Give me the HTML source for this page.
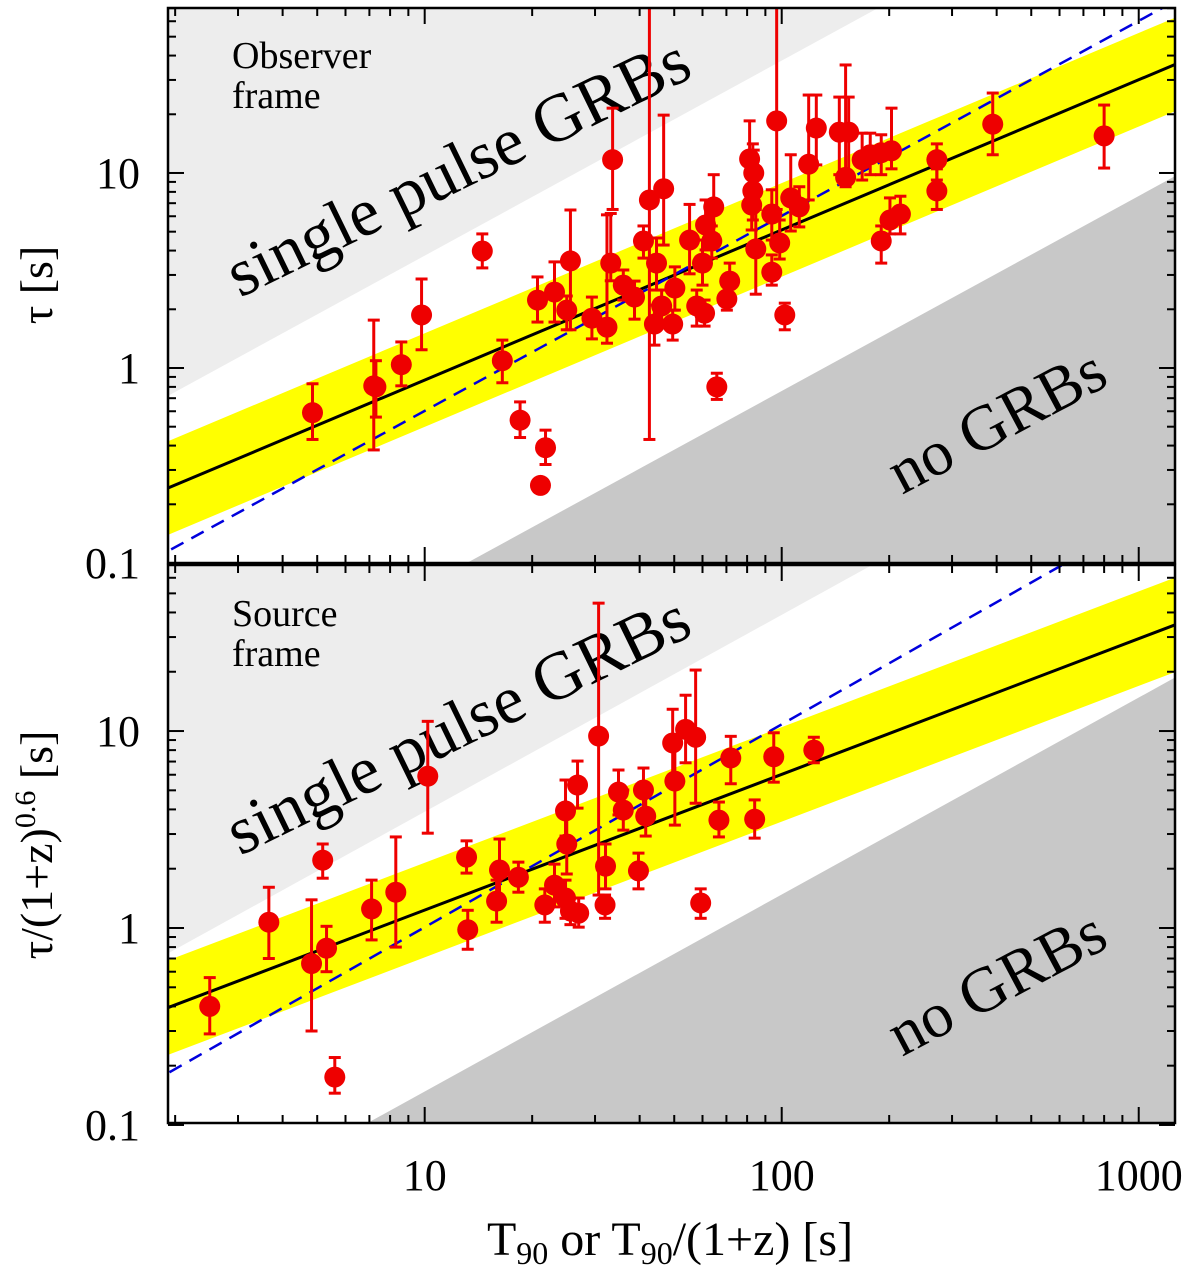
<!DOCTYPE html>
<html><head><meta charset="utf-8">
<style>
html,body{margin:0;padding:0;background:#fff;width:1200px;height:1270px;overflow:hidden;position:relative;}
svg{display:block;font-family:"Liberation Serif",serif;}
</style></head>
<body>
<svg id="chart" width="1200" height="1270" viewBox="0 0 1200 1270" xmlns="http://www.w3.org/2000/svg">
<defs>
<clipPath id="clipTop"><rect x="168" y="8" width="1007" height="555"/></clipPath>
<clipPath id="clipBot"><rect x="168" y="565" width="1007" height="558"/></clipPath>
</defs>
<g id="bgTop" clip-path="url(#clipTop)"></g>
<g id="bgBot" clip-path="url(#clipBot)"></g>
<g id="pts"></g>
<g id="axes"></g>
</svg>
<script>
// ---- Observer frame (top panel) data ----
const topT   = [4.85,7.2,7.3,8.6,9.8,14.5,16.5,18.5,21.8,21.1,20.7,23.1,25.6,25,29.4,32.4,33.6,33.2,36,38.7,41,42.6,44.6,44,46.7,46.1,49.5,50.2,55.2,60,57.8,60.8,61.2,64.5,63.7,70.2,71.5,65.8,81.3,83,82.4,84.6,83.5,93.8,93.8,96.8,98.7,102,106,112,119,125,145,151,154,168,177,190,203,190,201,215,272,272,390,800];
const topTau = [0.59,0.81,0.8,1.04,1.87,3.98,1.09,0.54,0.39,0.25,2.23,2.45,3.54,1.98,1.8,1.62,11.7,3.45,2.66,2.31,4.48,7.27,3.45,1.68,8.3,2.08,1.68,2.57,4.53,3.45,2.08,1.91,5.41,6.7,4.48,2.26,2.79,0.8,11.8,8.09,6.85,4.08,10,6.16,3.1,18.5,4.38,1.87,7.45,6.7,11.1,17,16.2,9.5,16.2,11.7,12.4,12.7,13,4.48,5.74,6.16,11.7,8.09,17.8,15.5];
const topUp  = [0.83,1.76,1.09,1.36,2.86,4.87,1.39,0.67,0.48,0.26,2.93,3.5,6.46,2.34,2.31,6.1,21.5,6.2,3.18,2.79,5.35,71,4.64,2.1,19.8,2.51,1.98,3.3,6.9,4.53,2.51,2.23,7.27,9.8,5.35,2.66,3.45,0.94,18.5,14.1,9.8,6.5,13.1,8.2,3.8,71,5.74,2.15,12.4,8.5,25.1,25.1,24.5,35.8,24.5,16,16,15.7,21.5,5.35,7.45,7.6,14.1,10.5,25.7,22.3];
const topDn  = [0.43,0.38,0.56,0.81,1.24,3.26,0.84,0.44,0.32,0.24,1.72,1.72,1.57,1.57,1.41,1.34,6.5,2.8,2.23,1.78,3.66,0.43,2.51,1.31,4.27,1.76,1.39,1.98,3.04,2.66,1.64,1.64,4.03,4.81,3.66,1.98,2.26,0.69,7.27,5.74,5.1,2.39,7.7,4.53,2.66,6.5,3.62,1.57,5.04,5.29,7.27,11,9.8,8.5,9.8,9.2,9.8,9.8,10.5,3.45,4.87,4.87,9.2,6.5,12.4,10.6];
// ---- Source frame (bottom panel) data ----
const botT   = [2.5,3.66,5.18,4.82,5.31,5.6,7.1,8.3,10.2,13.1,13.2,16.2,15.9,18.3,21.7,23.1,24.8,25,24.8,25.6,27,26.8,30.7,32.1,32,34.9,36,41,41.6,39.7,49.5,50.2,53.8,57.4,59.3,66.7,72,84,95,123];
const botTau = [0.40,1.07,2.21,0.66,0.79,0.175,1.25,1.52,5.9,2.29,0.98,1.97,1.37,1.81,1.31,1.65,3.93,2.67,1.42,1.22,1.19,5.32,9.43,2.06,1.31,4.9,3.97,5.02,3.7,1.95,8.7,5.57,10.2,9.3,1.34,3.53,7.3,3.57,7.4,8.0];
const botUp  = [0.56,1.61,2.67,1.39,1.02,0.22,1.75,2.9,11.2,2.77,1.23,2.83,1.75,2.16,1.58,2.11,5.64,4.06,1.75,1.42,1.42,7.04,44.6,2.67,1.47,6.34,5.02,6.49,4.79,2.4,12.9,9.3,15.2,20.4,1.58,4.36,9.4,4.47,9.8,9.3];
const botDn  = [0.29,0.70,1.79,0.30,0.60,0.145,0.87,0.80,3.03,1.9,0.78,1.4,1.07,1.52,1.07,1.28,2.93,1.88,1.12,1.04,1.01,4.06,1.47,1.58,1.12,3.75,3.14,3.97,2.93,1.58,5.7,3.33,6.9,4.3,1.12,2.9,5.4,2.86,5.5,6.9];
// fit parameters (log tau = a + b log T)
const topFit = [-0.832, 0.77], topBand = 0.24, topDash = [-1.22, 1.0], topLight = -0.424, topDark = -2.118;
const botFit = [-0.598, 0.689], botBand = 0.24, botDash = [-1.026, 1.03], botLight = -0.41, botDark = -1.83;
const xTickLabels = ["10","100","1000"];
const yTickLabels = ["0.1","1","10"];

const NS = "http://www.w3.org/2000/svg";
const X0 = 168, X1 = 1175, LX0 = 0.2810, LX1 = 3.1016;
function xs(t){ return X0 + (Math.log10(t) - LX0) / (LX1 - LX0) * (X1 - X0); }
function xl(l){ return X0 + (l - LX0) / (LX1 - LX0) * (X1 - X0); }
const panels = {
  top: {y0: 8, y1: 563, lmin: -1.0, lmax: 1.846},
  bot: {y0: 565, y1: 1123, lmin: -0.99, lmax: 1.843}
};
function yl(p, l){ return p.y1 - (l - p.lmin) / (p.lmax - p.lmin) * (p.y1 - p.y0); }
function ys(p, v){ return yl(p, Math.log10(v)); }
function mk(tag, attrs, parent){
  const e = document.createElementNS(NS, tag);
  for (const k in attrs) e.setAttribute(k, attrs[k]);
  parent.appendChild(e);
  return e;
}

function drawBg(g, p, fit, band, dash, light, dark, labelLines, isTop){
  mk('rect', {x: X0, y: p.y0, width: X1 - X0, height: p.y1 - p.y0, fill: '#fff'}, g);
  const la = LX0 - 0.5, lb = LX1 + 0.5;
  let e;
  e = mk('polygon', {points: `${xl(la)},${yl(p, la + light)} ${xl(lb)},${yl(p, lb + light)} ${xl(lb)},${p.y0 - 50} ${xl(la)},${p.y0 - 50}`, fill: '#ededed'}, g);
  
  
  e = mk('polygon', {points: `${xl(la)},${yl(p, la + dark)} ${xl(lb)},${yl(p, lb + dark)} ${xl(lb)},${p.y1 + 50} ${xl(la)},${p.y1 + 50}`, fill: '#c8c8c8'}, g);
  
  
  const f = l => fit[0] + fit[1] * l;
  e = mk('polygon', {points: `${xl(la)},${yl(p, f(la) + band)} ${xl(lb)},${yl(p, f(lb) + band)} ${xl(lb)},${yl(p, f(lb) - band)} ${xl(la)},${yl(p, f(la) - band)}`, fill: '#ffff00'}, g);
  
  
  e = mk('line', {x1: xl(la), y1: yl(p, f(la)), x2: xl(lb), y2: yl(p, f(lb)), stroke: '#000', 'stroke-width': 3}, g);
  
  
  const d = l => dash[0] + dash[1] * l;
  e = mk('line', {x1: xl(la), y1: yl(p, d(la)), x2: xl(lb), y2: yl(p, d(lb)), stroke: '#0000dd', 'stroke-width': 2.5, 'stroke-dasharray': '14,9'}, g);
  
  
  const oy = isTop ? 0 : 558;
  e = mk('text', {x: 232, y: 68 + oy, 'font-size': 38, fill: '#000'}, g);
  e.textContent = labelLines[0];
  
  
  e = mk('text', {x: 232, y: 108 + oy, 'font-size': 38, fill: '#000'}, g);
  e.textContent = labelLines[1];
  
  
  e = mk('text', {x: 0, y: 0, 'font-size': 68, fill: '#000', transform: `translate(240,${isTop ? 298 : 856}) rotate(-26)`}, g);
  e.textContent = 'single pulse GRBs';
  
  
  e = mk('text', {x: 0, y: 0, 'font-size': 64, fill: '#000', transform: `translate(902,${isTop ? 495 : 1057}) rotate(-28)`}, g);
  e.textContent = 'no GRBs';
  
  
}

function drawPts(g, p, T, tau, up, dn, name){
  for (let i = 0; i < T.length; i++){
    const x = xs(T[i]);
    const grp = mk('g', {}, g);
    
    
    const yt = Math.max(p.y0, ys(p, up[i])), yb = Math.min(p.y1, ys(p, dn[i]));
    mk('line', {x1: x, y1: yt, x2: x, y2: yb, stroke: '#ee0000', 'stroke-width': 3}, grp);
    if (ys(p, up[i]) > p.y0) mk('line', {x1: x - 6, y1: yt, x2: x + 6, y2: yt, stroke: '#ee0000', 'stroke-width': 3}, grp);
    if (ys(p, dn[i]) < p.y1) mk('line', {x1: x - 6, y1: yb, x2: x + 6, y2: yb, stroke: '#ee0000', 'stroke-width': 3}, grp);
    mk('circle', {cx: x, cy: ys(p, tau[i]), r: 10.5, fill: '#ee0000'}, grp);
  }
}

function drawAxes(g, p, showX){
  let e = mk('rect', {x: X0, y: p.y0, width: X1 - X0, height: p.y1 - p.y0, fill: 'none', stroke: '#000', 'stroke-width': 2.5}, g);
  
  
  for (let dec = 0; dec <= 3; dec++){
    for (let m = 1; m <= 9; m++){
      const l = dec + Math.log10(m);
      if (l < LX0 || l > LX1) continue;
      const x = xl(l), len = m === 1 ? 16 : 8;
      mk('line', {x1: x, y1: p.y1, x2: x, y2: p.y1 - len, stroke: '#000', 'stroke-width': 2}, g);
      mk('line', {x1: x, y1: p.y0, x2: x, y2: p.y0 + len, stroke: '#000', 'stroke-width': 2}, g);
    }
  }
  for (let dec = -1; dec <= 1; dec++){
    for (let m = 1; m <= 9; m++){
      const l = dec + Math.log10(m);
      if (l < p.lmin - 0.01 || l > p.lmax) continue;
      const y = yl(p, l), len = m === 1 ? 16 : 8;
      mk('line', {x1: X0, y1: y, x2: X0 + len, y2: y, stroke: '#000', 'stroke-width': 2}, g);
      mk('line', {x1: X1, y1: y, x2: X1 - len, y2: y, stroke: '#000', 'stroke-width': 2}, g);
    }
  }
  yTickLabels.forEach((s, i) => {
    const t = mk('text', {x: 140, y: yl(p, i - 1) + 15, 'font-size': 44, 'text-anchor': 'end', fill: '#000'}, g);
    t.textContent = s;
    
    
  });
  if (showX){
    xTickLabels.forEach((s, i) => {
      const t = mk('text', {x: xl(i + 1), y: 1190, 'font-size': 44, 'text-anchor': 'middle', fill: '#000'}, g);
      t.textContent = s;
      
      
    });
  }
}

drawBg(document.getElementById('bgTop'), panels.top, topFit, topBand, topDash, topLight, topDark, ['Observer', 'frame'], true);
drawBg(document.getElementById('bgBot'), panels.bot, botFit, botBand, botDash, botLight, botDark, ['Source', 'frame'], false);
const ptsG = document.getElementById('pts');
drawPts(ptsG, panels.top, topT, topTau, topUp, topDn, 'observer-frame-grb-point');
drawPts(ptsG, panels.bot, botT, botTau, botUp, botDn, 'source-frame-grb-point');
const axG = document.getElementById('axes');
drawAxes(axG, panels.top, false);
drawAxes(axG, panels.bot, true);
</script>
<svg style="position:absolute;left:0;top:0" width="1200" height="1270">
<text x="670" y="1255" font-size="48" text-anchor="middle" font-family="Liberation Serif, serif">T<tspan font-size="32" dy="9">90</tspan><tspan dy="-9"> or T</tspan><tspan font-size="32" dy="9">90</tspan><tspan dy="-9">/(1+z) [s]</tspan></text>
<text transform="translate(52,285) rotate(-90)" font-size="46" text-anchor="middle" font-family="Liberation Serif, serif">τ [s]</text>
<text transform="translate(52,845) rotate(-90)" font-size="46" text-anchor="middle" font-family="Liberation Serif, serif">τ/(1+z)<tspan font-size="30" dy="-17">0.6</tspan><tspan dy="17"> [s]</tspan></text>
</svg>
</body></html>
